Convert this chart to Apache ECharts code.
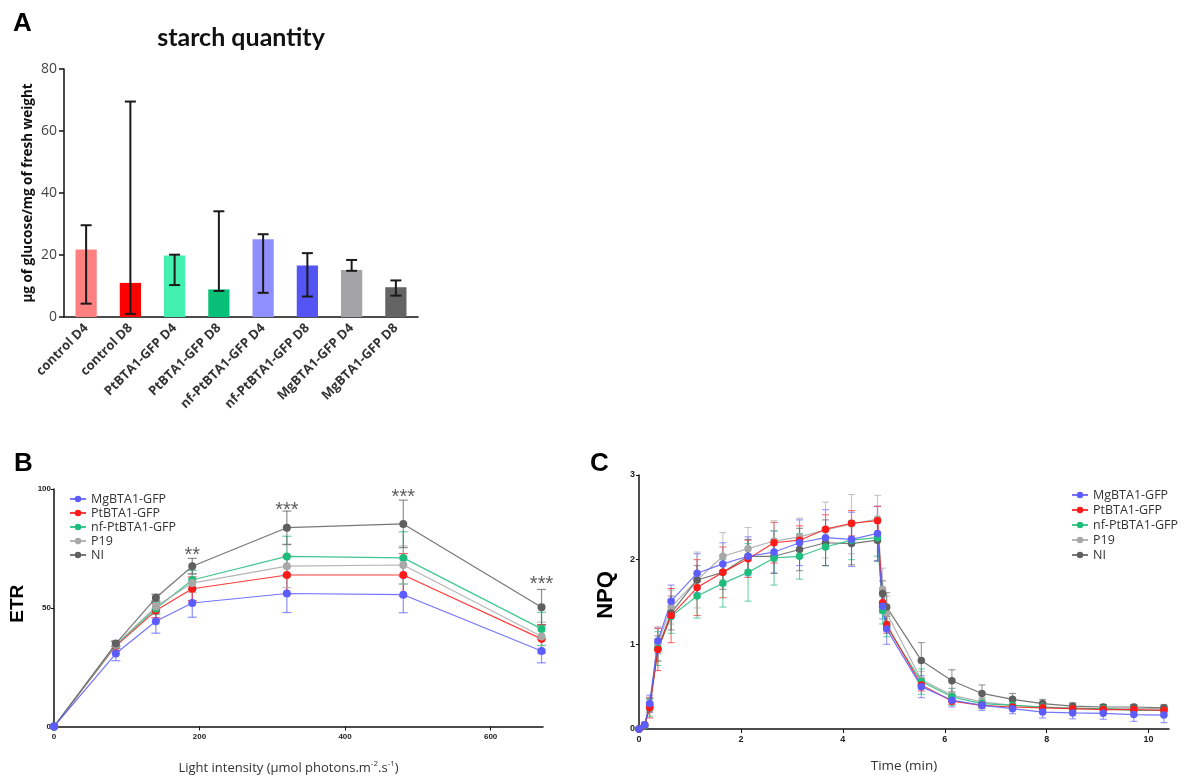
<!DOCTYPE html>
<html><head><meta charset="utf-8">
<script src="https://cdn.jsdelivr.net/npm/echarts@6/dist/echarts.min.js"></script>
<style>html,body{margin:0;padding:0;background:#fff}#c{width:1189px;height:776px}</style>
</head><body><div id="c"></div>
<script>
// ---------- Panel A data ----------
const catsA = ['control D4','control D8','PtBTA1-GFP D4','PtBTA1-GFP D8','nf-PtBTA1-GFP D4','nf-PtBTA1-GFP D8','MgBTA1-GFP D4','MgBTA1-GFP D8'];
const starchMean = [21.8, 11.0, 19.8, 8.9, 25.1, 16.6, 15.2, 9.6];
const starchLow  = [4.3, 1.0, 10.3, 8.4, 7.8, 6.6, 14.9, 6.9];
const starchHigh = [29.6, 69.5, 20.1, 34.1, 26.7, 20.6, 18.4, 11.8];
const barColors = ['#ff8080','#ff0000','#44f0b0','#08bf77','#8f8fff','#5555f5','#a3a3a8','#646464'];
const yTicksA = [0, 20, 40, 60, 80];

// ---------- Panel B data ----------
const lightX = [0, 85, 140, 190, 320, 480, 670];
const etrMg  = [0, 30.7, 44.3, 52.0, 56.0, 55.5, 31.8];
const etrPt  = [0, 33.9, 48.8, 58.0, 63.8, 63.8, 36.9];
const etrNf  = [0, 34.3, 49.7, 61.7, 71.6, 71.0, 41.1];
const etrP19 = [0, 34.4, 50.5, 60.4, 67.5, 68.0, 37.9];
const etrNI  = [0, 34.9, 54.2, 67.5, 83.7, 85.3, 50.2];
const errEtrMg  = [0, 3, 5, 6, 8, 7.6, 5];
const errEtrPt  = [0, 2, 3, 5, 8, 9, 6];
const errEtrNf  = [0, 1.5, 2.5, 4, 8.5, 11, 7];
const errEtrP19 = [0, 1.5, 2.5, 4, 9, 8, 6];
const errEtrNI  = [0, 1, 1.5, 3.3, 7, 10, 7.5];
const sigX = [190, 320, 480, 670];
const sigY = [72, 91, 96.5, 60];
const sigText = ['**', '***', '***', '***'];
const xTicksB = [0, 200, 400, 600];

// ---------- Panel C data ----------
const timeC = [0, 0.11, 0.21, 0.37, 0.63, 1.14, 1.645, 2.14, 2.65, 3.15, 3.66, 4.17, 4.68, 4.78, 4.86, 5.54, 6.14, 6.73, 7.33, 7.92, 8.51, 9.11, 9.71, 10.3];
const npqMg  = [0, 0.05, 0.30, 1.04, 1.51, 1.84, 1.95, 2.04, 2.09, 2.20, 2.26, 2.24, 2.31, 1.45, 1.18, 0.50, 0.34, 0.28, 0.24, 0.20, 0.19, 0.185, 0.17, 0.165];
const npqPt  = [0, 0.05, 0.25, 0.94, 1.34, 1.67, 1.85, 2.01, 2.20, 2.23, 2.36, 2.43, 2.46, 1.49, 1.23, 0.52, 0.33, 0.28, 0.26, 0.25, 0.24, 0.23, 0.23, 0.22];
const npqNf  = [0, 0.04, 0.25, 0.95, 1.33, 1.57, 1.72, 1.85, 2.02, 2.04, 2.15, 2.23, 2.26, 1.40, 1.21, 0.56, 0.38, 0.30, 0.28, 0.26, 0.24, 0.24, 0.22, 0.22];
const npqP19 = [0, 0.04, 0.30, 1.01, 1.44, 1.76, 2.04, 2.13, 2.22, 2.27, 2.35, 2.42, 2.48, 1.65, 1.37, 0.58, 0.40, 0.32, 0.28, 0.26, 0.25, 0.24, 0.24, 0.24];
const npqNI  = [0, 0.04, 0.28, 0.95, 1.37, 1.76, 1.85, 2.04, 2.04, 2.12, 2.20, 2.19, 2.23, 1.60, 1.44, 0.81, 0.57, 0.42, 0.35, 0.30, 0.27, 0.26, 0.26, 0.25];
const errNpqMg  = [0, 0.02, 0.1, 0.15, 0.19, 0.23, 0.25, 0.23, 0.25, 0.27, 0.33, 0.32, 0.32, 0.15, 0.18, 0.13, 0.08, 0.06, 0.06, 0.07, 0.07, 0.07, 0.08, 0.09];
const errNpqPt  = [0, 0.02, 0.12, 0.25, 0.32, 0.33, 0.3, 0.22, 0.24, 0.17, 0.17, 0.15, 0.17, 0.12, 0.1, 0.07, 0.04, 0.03, 0.03, 0.03, 0.03, 0.03, 0.03, 0.03];
const errNpqNf  = [0, 0.02, 0.1, 0.2, 0.2, 0.26, 0.28, 0.34, 0.32, 0.27, 0.22, 0.23, 0.22, 0.16, 0.12, 0.15, 0.1, 0.06, 0.05, 0.05, 0.04, 0.04, 0.04, 0.04];
const errNpqP19 = [0, 0.02, 0.08, 0.2, 0.2, 0.33, 0.28, 0.25, 0.24, 0.22, 0.33, 0.35, 0.28, 0.25, 0.2, 0.1, 0.08, 0.05, 0.05, 0.05, 0.05, 0.05, 0.05, 0.05];
const errNpqNI  = [0, 0.02, 0.08, 0.15, 0.2, 0.17, 0.2, 0.2, 0.2, 0.25, 0.27, 0.25, 0.25, 0.15, 0.17, 0.21, 0.13, 0.1, 0.07, 0.05, 0.04, 0.03, 0.03, 0.03];
const xTicksC = [0, 2, 4, 6, 8, 10];

const groups = ['MgBTA1-GFP', 'PtBTA1-GFP', 'nf-PtBTA1-GFP', 'P19', 'NI'];
const groupColors = ['#5c5cff', '#ff1a1a', '#1ebd7b', '#a8a8a8', '#5f5f5f'];
const etrSets = [etrMg, etrPt, etrNf, etrP19, etrNI];
const etrErrs = [errEtrMg, errEtrPt, errEtrNf, errEtrP19, errEtrNI];
const npqSets = [npqMg, npqPt, npqNf, npqP19, npqNI];
const npqErrs = [errNpqMg, errNpqPt, errNpqNf, errNpqP19, errNpqNI];

function errRender(capW, color, lw, opacity) {
  return function (params, api) {
    const x = api.value(0), lo = api.value(1), hi = api.value(2);
    const a = api.coord([x, lo]), b = api.coord([x, hi]);
    const st = { stroke: color, lineWidth: lw, opacity: opacity };
    return { type: 'group', children: [
      { type: 'line', shape: { x1: a[0], y1: a[1], x2: b[0], y2: b[1] }, style: st },
      { type: 'line', shape: { x1: a[0] - capW / 2, y1: a[1], x2: a[0] + capW / 2, y2: a[1] }, style: st },
      { type: 'line', shape: { x1: b[0] - capW / 2, y1: b[1], x2: b[0] + capW / 2, y2: b[1] }, style: st }
    ]};
  };
}

const FONT = 'Liberation Sans';
const series = [];

// Panel A
series.push({
  type: 'bar', xAxisIndex: 0, yAxisIndex: 0, barWidth: '48%',
  data: starchMean.map((v, i) => ({ value: v, itemStyle: { color: barColors[i] } })),
  silent: true, z: 2
});
series.push({
  type: 'custom', xAxisIndex: 0, yAxisIndex: 0, name: 'errA',
  renderItem: errRender(11, '#1a1a1a', 2, 1),
  data: catsA.map((c, i) => [i, starchLow[i], starchHigh[i]]), z: 5, silent: true
});

// Panel B
groups.forEach((g, k) => {
  series.push({
    type: 'custom', xAxisIndex: 1, yAxisIndex: 1, name: 'errB' + k,
    renderItem: errRender(9, groupColors[k], 1.2, 0.7),
    data: lightX.map((x, i) => [x, etrSets[k][i] - etrErrs[k][i], etrSets[k][i] + etrErrs[k][i]]),
    z: 3, silent: true
  });
});
groups.forEach((g, k) => {
  series.push({
    type: 'line', name: g, xAxisIndex: 1, yAxisIndex: 1,
    data: lightX.map((x, i) => [x, etrSets[k][i]]),
    symbol: 'circle', symbolSize: 8, color: groupColors[k],
    lineStyle: { width: 1.2, opacity: 0.85 }, z: 4 + (k === 0 ? 1 : 0), silent: true
  });
});
series.push({
  type: 'scatter', xAxisIndex: 1, yAxisIndex: 1, name: 'sig', symbolSize: 0,
  data: sigX.map((x, i) => [x, sigY[i], sigText[i]]),
  label: { show: true, position: 'inside', formatter: p => p.data[2], fontSize: 20, fontFamily: FONT, color: '#333' },
  silent: true
});

// Panel C
groups.forEach((g, k) => {
  series.push({
    type: 'custom', xAxisIndex: 2, yAxisIndex: 2, name: 'errC' + k,
    renderItem: errRender(7, groupColors[k], 1.1, 0.65),
    data: timeC.map((x, i) => [x, npqSets[k][i] - npqErrs[k][i], npqSets[k][i] + npqErrs[k][i]]),
    z: 3, silent: true
  });
});
[3, 4, 2, 1, 0].forEach(k => {
  series.push({
    type: 'line', name: groups[k], xAxisIndex: 2, yAxisIndex: 2,
    data: timeC.map((x, i) => [x, npqSets[k][i]]),
    symbol: 'circle', symbolSize: 7.5, color: groupColors[k],
    lineStyle: { width: 1.2, opacity: 0.85 }, z: 4, silent: true
  });
});

const axisLineStyle = { color: '#111', width: 1.5 };
const legendText = { fontSize: 12.5, color: '#333', fontFamily: 'Open Sans', lineHeight: 14 };

const option = {
  animation: false,
  backgroundColor: '#fff',
  textStyle: { fontFamily: FONT },
  title: [
    { text: 'A', left: 8, top: 6, textStyle: { fontSize: 26, fontWeight: 'bold', color: '#000', fontFamily: FONT } },
    { text: 'starch quantity', left: 236, top: 20, textAlign: 'center', textStyle: { fontSize: 25, fontWeight: 'bold', color: '#111', fontFamily: 'Lato' } },
    { text: 'B', left: 9, top: 446, textStyle: { fontSize: 26, fontWeight: 'bold', color: '#000', fontFamily: FONT } },
    { text: 'C', left: 585, top: 446, textStyle: { fontSize: 26, fontWeight: 'bold', color: '#000', fontFamily: FONT } }
  ],
  legend: [
    { data: groups, orient: 'vertical', left: 64, top: 487, itemGap: 0, itemWidth: 16, itemHeight: 8,
      textStyle: legendText, selectedMode: false },
    { data: groups, orient: 'vertical', left: 1066, top: 483, itemGap: 1, itemWidth: 16, itemHeight: 8,
      textStyle: legendText, selectedMode: false }
  ],
  grid: [
    { left: 64, top: 69, width: 354, height: 248 },
    { left: 54, top: 489, width: 489, height: 241 },
    { left: 639, top: 475, width: 530, height: 254 }
  ],
  xAxis: [
    { gridIndex: 0, type: 'category', data: catsA,
      axisLine: { lineStyle: axisLineStyle },
      axisTick: { alignWithLabel: true, length: 6, lineStyle: { color: '#111', width: 1.5 } },
      axisLabel: { rotate: 45, fontSize: 13, fontWeight: 'bold', color: '#333', margin: 9, interval: 0, fontFamily: 'Open Sans' } },
    { gridIndex: 1, type: 'value', min: 0, max: 672, interval: 200,
      axisLine: { onZero: false, lineStyle: axisLineStyle },
      axisTick: { length: 4, customValues: xTicksB, lineStyle: { color: '#111' } },
      axisLabel: { customValues: xTicksB, fontSize: 8, fontWeight: 'bold', color: '#222', margin: 6 },
      splitLine: { show: false },
      name: 'Light intensity (µmol photons.m{sup|-2}.s{sup|-1})', nameLocation: 'middle', nameGap: 33,
      nameTextStyle: { fontSize: 13, color: '#333', fontFamily: 'Open Sans', padding: [0, 20, 0, 0],
        rich: { sup: { fontSize: 8, padding: [0, 0, 10, 0], color: '#333', fontFamily: 'Open Sans' } } } },
    { gridIndex: 2, type: 'value', min: 0, max: 10.4, interval: 2,
      axisLine: { onZero: false, lineStyle: axisLineStyle },
      axisTick: { length: 4, customValues: xTicksC, lineStyle: { color: '#111' } },
      axisLabel: { customValues: xTicksC, fontSize: 9, fontWeight: 'bold', color: '#222', margin: 6 },
      splitLine: { show: false },
      name: 'Time (min)', nameLocation: 'middle', nameGap: 30,
      nameTextStyle: { fontSize: 13.5, color: '#333', fontFamily: 'Open Sans' } }
  ],
  yAxis: [
    { gridIndex: 0, type: 'value', min: 0, max: 80, interval: 20,
      axisLine: { show: true, lineStyle: axisLineStyle },
      axisTick: { show: true, length: 5, lineStyle: { color: '#111', width: 1.5 } },
      axisLabel: { fontSize: 14, color: '#444', margin: 7, fontFamily: 'Open Sans' },
      splitLine: { show: false },
      name: 'µg of glucose/mg of fresh weight', nameLocation: 'middle', nameGap: 29, nameRotate: 90,
      nameTextStyle: { fontSize: 13.5, fontWeight: 'bold', color: '#111', fontFamily: 'Open Sans' } },
    { gridIndex: 1, type: 'value', min: 0, max: 100, interval: 50,
      axisLine: { show: true, lineStyle: axisLineStyle },
      axisTick: { show: true, length: 3, lineStyle: { color: '#111' } },
      axisLabel: { fontSize: 8, fontWeight: 'bold', color: '#222', margin: 3 },
      splitLine: { show: false },
      name: 'ETR', nameLocation: 'middle', nameGap: 27, nameRotate: 90,
      nameTextStyle: { fontSize: 19, fontWeight: 'bold', color: '#000', fontFamily: FONT, padding: [0, 0, 0, 8] } },
    { gridIndex: 2, type: 'value', min: 0, max: 3, interval: 1,
      axisLine: { show: true, lineStyle: axisLineStyle },
      axisTick: { show: true, length: 3, lineStyle: { color: '#111' } },
      axisLabel: { fontSize: 9, fontWeight: 'bold', color: '#222', margin: 4 },
      splitLine: { show: false },
      name: 'NPQ', nameLocation: 'middle', nameGap: 22, nameRotate: 90,
      nameTextStyle: { fontSize: 22, fontWeight: 'bold', color: '#000', fontFamily: FONT, padding: [0, 0, 0, 14] } }
  ],
  series: series
};

const chart = echarts.init(document.getElementById('c'), null, { renderer: 'canvas' });
chart.setOption(option);
</script>
</body></html>
